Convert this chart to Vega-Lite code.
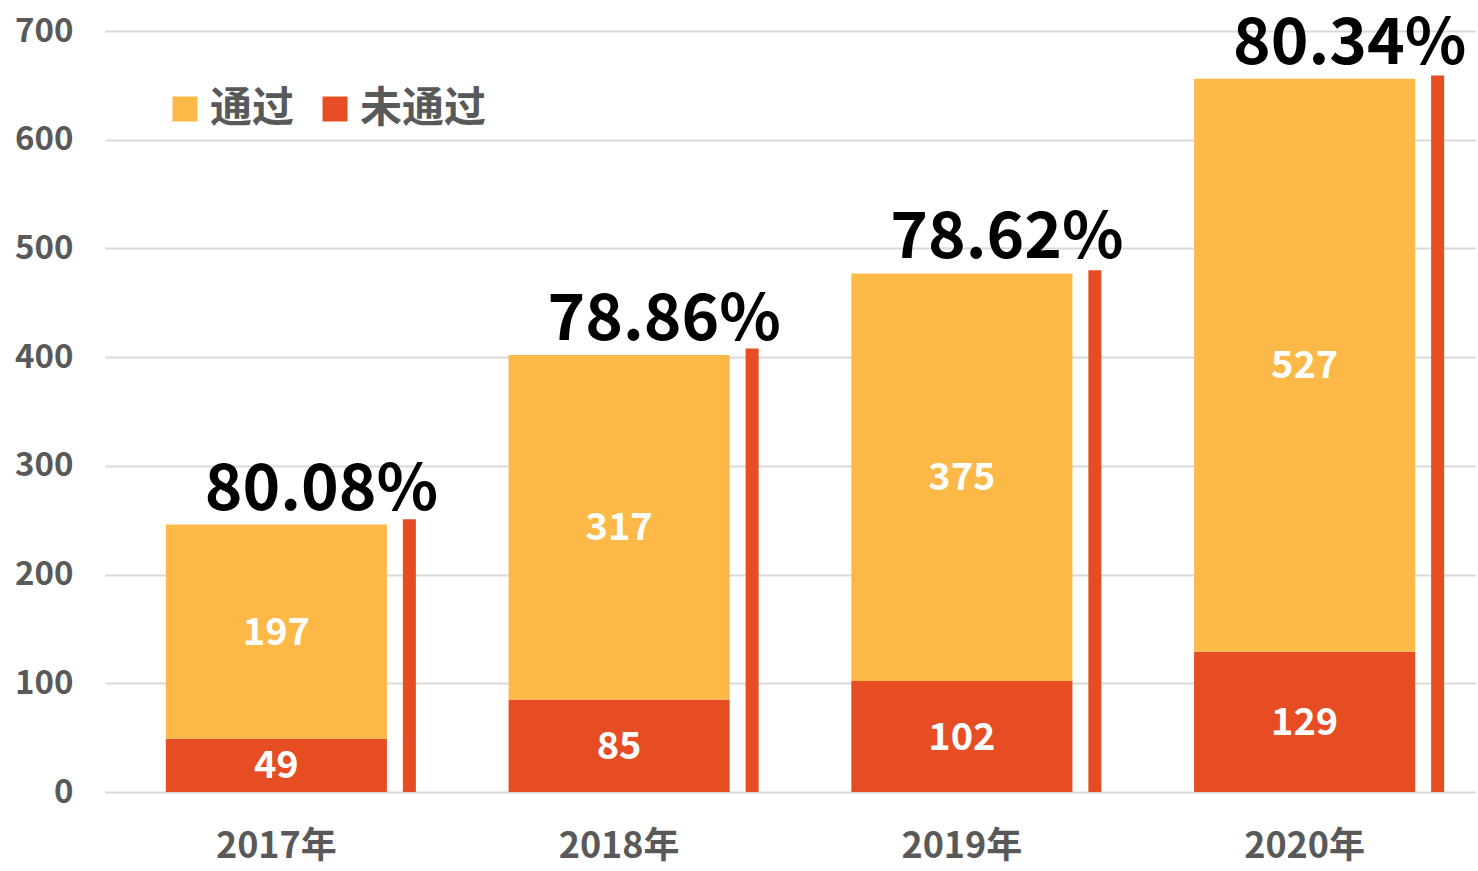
{
  "$schema": "https://vega.github.io/schema/vega-lite/v6.json",
  "width": 1371,
  "height": 761,
  "autosize": {"type": "none"},
  "padding": {"left": 105, "top": 31, "right": 2, "bottom": 79},
  "background": "white",
  "config": {
    "font": "Noto Sans CJK SC",
    "view": {"stroke": null}
  },
  "datasets": {
    "bars": [
      {"year": "2017年", "status": "未通过", "value": 49, "order": 1},
      {"year": "2017年", "status": "通过", "value": 197, "order": 2},
      {"year": "2018年", "status": "未通过", "value": 85, "order": 1},
      {"year": "2018年", "status": "通过", "value": 317, "order": 2},
      {"year": "2019年", "status": "未通过", "value": 102, "order": 1},
      {"year": "2019年", "status": "通过", "value": 375, "order": 2},
      {"year": "2020年", "status": "未通过", "value": 129, "order": 1},
      {"year": "2020年", "status": "通过", "value": 527, "order": 2}
    ],
    "totals": [
      {"year": "2017年", "total": 246, "marker": 251, "rate": "80.08%"},
      {"year": "2018年", "total": 402, "marker": 408, "rate": "78.86%"},
      {"year": "2019年", "total": 477, "marker": 480, "rate": "78.62%"},
      {"year": "2020年", "total": 656, "marker": 659, "rate": "80.34%"}
    ]
  },
  "encoding": {
    "x": {
      "field": "year",
      "type": "nominal",
      "sort": null,
      "scale": {"paddingInner": 0, "paddingOuter": 0},
      "axis": {
        "title": null,
        "labelAngle": 0,
        "labelFontSize": 36,
        "labelFontWeight": "bold",
        "labelColor": "#595959",
        "labelPadding": 37,
        "ticks": false,
        "domain": false,
        "grid": false
      }
    }
  },
  "layer": [
    {
      "data": {"name": "bars"},
      "mark": {"type": "bar", "width": {"band": 0.645}},
      "encoding": {
        "y": {
          "field": "value",
          "type": "quantitative",
          "stack": "zero",
          "scale": {"domain": [0, 700]},
          "axis": {
            "title": null,
            "values": [0, 100, 200, 300, 400, 500, 600, 700],
            "labelFontSize": 33,
            "labelFontWeight": "bold",
            "labelColor": "#595959",
            "labelPadding": 32,
            "ticks": false,
            "domain": false,
            "gridColor": "#d9d9d9",
            "gridWidth": 2
          }
        },
        "order": {"field": "order", "type": "quantitative"},
        "color": {
          "field": "status",
          "type": "nominal",
          "scale": {"domain": ["通过", "未通过"], "range": ["#FDB947", "#E64D23"]},
          "legend": {
            "title": null,
            "orient": "none",
            "legendX": 59,
            "legendY": 57,
            "direction": "horizontal",
            "symbolType": "square",
            "symbolSize": 625,
            "symbolStrokeWidth": 0,
            "labelFontSize": 42,
            "labelFontWeight": "bold",
            "labelColor": "#595959",
            "labelOffset": 4,
            "columnPadding": 19
          }
        }
      }
    },
    {
      "data": {"name": "bars"},
      "transform": [
        {"stack": "value", "groupby": ["year"], "sort": [{"field": "order"}], "as": ["v0", "v1"]},
        {"calculate": "(datum.v0 + datum.v1) / 2", "as": "mid"}
      ],
      "mark": {"type": "text", "color": "white", "fontSize": 38, "fontWeight": "bold", "baseline": "middle", "dy": 2},
      "encoding": {
        "y": {"field": "mid", "type": "quantitative"},
        "text": {"field": "value", "type": "quantitative"}
      }
    },
    {
      "data": {"name": "totals"},
      "mark": {"type": "bar", "width": 13, "xOffset": 133, "color": "#E64D23"},
      "encoding": {
        "y": {"field": "marker", "type": "quantitative"}
      }
    },
    {
      "data": {"name": "totals"},
      "mark": {"type": "text", "color": "black", "fontSize": 64, "fontWeight": "bold", "baseline": "alphabetic", "dy": -15, "xOffset": 45},
      "encoding": {
        "y": {"field": "total", "type": "quantitative"},
        "text": {"field": "rate", "type": "nominal"}
      }
    }
  ]
}
